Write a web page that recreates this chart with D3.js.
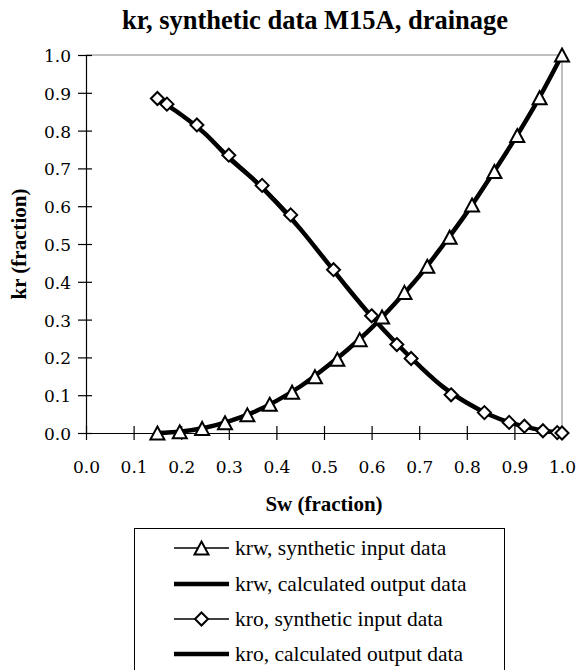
<!DOCTYPE html>
<html>
<head>
<meta charset="utf-8">
<script src="https://cdn.jsdelivr.net/npm/d3@7"></script>
<style>
  html, body { margin: 0; padding: 0; background: #fff; }
  svg { display: block; }
  .tickfont { font-family: "DejaVu Serif", "Liberation Serif", "Times New Roman", Times, serif; }
  .textfont { font-family: "Liberation Serif", "Times New Roman", Times, "DejaVu Serif", serif; }
</style>
</head>
<body>
<svg id="chart" width="576" height="670"></svg>
<script>
// krw synthetic input data (triangles)
const krwInSw = [0.15, 0.197, 0.244, 0.292, 0.339, 0.386, 0.433, 0.481, 0.528, 0.575,
                 0.622, 0.669, 0.717, 0.764, 0.811, 0.858, 0.906, 0.953, 1.0];
const krwIn   = [0.000, 0.003, 0.012, 0.027, 0.048, 0.076, 0.108, 0.149, 0.195, 0.247,
                 0.307, 0.372, 0.441, 0.518, 0.603, 0.692, 0.787, 0.887, 1.000];

// kro synthetic input data (diamonds)
const kroInSw = [0.15, 0.17, 0.233, 0.30, 0.37, 0.43, 0.52, 0.60, 0.653, 0.683,
                 0.767, 0.837, 0.889, 0.921, 0.96, 0.99, 1.0];
const kroIn   = [0.885, 0.870, 0.815, 0.735, 0.655, 0.577, 0.432, 0.310, 0.234, 0.197,
                 0.101, 0.054, 0.028, 0.018, 0.006, 0.001, 0.000];

// calculated output curves
const calcSw  = [0.15, 0.20, 0.25, 0.30, 0.35, 0.40, 0.45, 0.50, 0.55, 0.60,
                 0.65, 0.70, 0.75, 0.80, 0.85, 0.90, 0.95, 1.00];
const krwCalc = [0.000, 0.004, 0.014, 0.031, 0.054, 0.085, 0.123, 0.170, 0.221, 0.278,
                 0.344, 0.415, 0.497, 0.583, 0.678, 0.776, 0.882, 1.000];
const kroCalc = [0.884, 0.842, 0.792, 0.728, 0.673, 0.610, 0.540, 0.462, 0.383, 0.308,
                 0.240, 0.178, 0.122, 0.080, 0.047, 0.024, 0.009, 0.000];

const ticks = [0, 0.1, 0.2, 0.3, 0.4, 0.5, 0.6, 0.7, 0.8, 0.9, 1.0];

const legendLabels = [
  "krw, synthetic input data",
  "krw, calculated output data",
  "kro, synthetic input data",
  "kro, calculated output data"
];

const svg = d3.select("#chart");
const plot = { left: 86, right: 562, top: 55, bottom: 433 };

const x = d3.scaleLinear().domain([0, 1]).range([plot.left, plot.right]);
const y = d3.scaleLinear().domain([0, 1]).range([plot.bottom, plot.top]);

// plot frame: gray top and right edges
svg.append("path")
  .attr("d", `M${plot.left},${plot.top}H${plot.right}V${plot.bottom}`)
  .attr("fill", "none").attr("stroke", "#808080").attr("stroke-width", 1);

// y axis with crossing ticks
const yAxis = d3.axisLeft(y).tickValues(ticks).tickFormat(d3.format(".1f"))
  .tickSizeInner(8).tickSizeOuter(0).tickPadding(8);
const gy = svg.append("g").attr("transform", `translate(${plot.left},0)`).call(yAxis)
  .attr("font-family", null).attr("font-size", null);
gy.select(".domain").attr("stroke", "#000").attr("stroke-width", 1.2);
gy.selectAll(".tick line").attr("x2", -8).attr("x1", 6).attr("stroke", "#000").attr("stroke-width", 1.2);
gy.selectAll(".tick text").attr("class", "tickfont")
  .style("font-size", "17px").attr("fill", "#000")
  .attr("dy", "0.38em").attr("x", -15);

// x axis with crossing ticks
const xAxis = d3.axisBottom(x).tickValues(ticks).tickFormat(d3.format(".1f"))
  .tickSizeInner(7).tickSizeOuter(0).tickPadding(8);
const gx = svg.append("g").attr("transform", `translate(0,${plot.bottom})`).call(xAxis)
  .attr("font-family", null).attr("font-size", null);
gx.select(".domain").attr("stroke", "#000").attr("stroke-width", 1.2);
gx.selectAll(".tick line").attr("y1", -7).attr("y2", 7).attr("stroke", "#000").attr("stroke-width", 1.2);
gx.selectAll(".tick text").attr("class", "tickfont")
  .style("font-size", "17px").attr("fill", "#000")
  .attr("y", 40).attr("dy", 0);

// titles
svg.append("text").attr("class", "textfont")
  .attr("x", 315).attr("y", 29).attr("text-anchor", "middle")
  .style("font-weight", "bold").style("font-size", "26.5px")
  .text("kr, synthetic data M15A, drainage");

svg.append("text").attr("class", "textfont")
  .attr("x", 324).attr("y", 511).attr("text-anchor", "middle")
  .style("font-weight", "bold").style("font-size", "21px")
  .text("Sw (fraction)");

svg.append("text").attr("class", "textfont")
  .attr("transform", `translate(26,${(plot.top + plot.bottom) / 2}) rotate(-90)`)
  .attr("text-anchor", "middle")
  .style("font-weight", "bold").style("font-size", "21px")
  .text("kr (fraction)");

// marker shapes
const triPath = "M0,-6.5L7,6.5L-7,6.5Z";
const diaPath = "M0,-6.5L6.5,0L0,6.5L-6.5,0Z";

const smooth = d3.line().x(d => x(d[0])).y(d => y(d[1])).curve(d3.curveMonotoneX);
const straight = d3.line().x(d => x(d[0])).y(d => y(d[1]));

const zip = (a, b) => a.map((v, i) => [v, b[i]]);

const g = svg.append("g");

// calculated curves (thick)
g.append("path").datum(zip(calcSw, kroCalc)).attr("d", smooth)
  .attr("fill", "none").attr("stroke", "#000").attr("stroke-width", 4.5)
  .attr("stroke-linejoin", "round");
g.append("path").datum(zip(calcSw, krwCalc)).attr("d", smooth)
  .attr("fill", "none").attr("stroke", "#000").attr("stroke-width", 4.5)
  .attr("stroke-linejoin", "round");

// input data lines (thin)
g.append("path").datum(zip(kroInSw, kroIn)).attr("d", straight)
  .attr("fill", "none").attr("stroke", "#000").attr("stroke-width", 1.5);
g.append("path").datum(zip(krwInSw, krwIn)).attr("d", straight)
  .attr("fill", "none").attr("stroke", "#000").attr("stroke-width", 1.5);

// markers
g.selectAll(".dia").data(zip(kroInSw, kroIn)).enter().append("path")
  .attr("class", "dia").attr("d", diaPath)
  .attr("transform", d => `translate(${x(d[0])},${y(d[1])})`)
  .attr("fill", "#fff").attr("stroke", "#000").attr("stroke-width", 2);
g.selectAll(".tri").data(zip(krwInSw, krwIn)).enter().append("path")
  .attr("class", "tri").attr("d", triPath)
  .attr("transform", d => `translate(${x(d[0])},${y(d[1])})`)
  .attr("fill", "#fff").attr("stroke", "#000").attr("stroke-width", 2);

// legend
const legend = svg.append("g");
legend.append("rect").attr("x", 134.5).attr("y", 528.5).attr("width", 370).attr("height", 170)
  .attr("fill", "#fff").attr("stroke", "#000").attr("stroke-width", 1);

const rowY = [548, 584, 619, 654];
const kinds = ["tri", "thick", "dia", "thick"];
legendLabels.forEach((lab, i) => {
  const cy = rowY[i];
  const row = legend.append("g");
  if (kinds[i] === "thick") {
    row.append("line").attr("x1", 174).attr("x2", 229).attr("y1", cy).attr("y2", cy)
      .attr("stroke", "#000").attr("stroke-width", 4.5);
  } else {
    row.append("line").attr("x1", 174).attr("x2", 229).attr("y1", cy).attr("y2", cy)
      .attr("stroke", "#000").attr("stroke-width", 1.5);
    row.append("path").attr("d", kinds[i] === "tri" ? triPath : diaPath)
      .attr("transform", `translate(201.5,${cy})`)
      .attr("fill", "#fff").attr("stroke", "#000").attr("stroke-width", 2);
  }
  row.append("text").attr("class", "textfont")
    .attr("x", 235).attr("y", cy + 6.5)
    .style("font-size", "21.5px").attr("fill", "#000")
    .text(lab);
});
</script>
</body>
</html>
